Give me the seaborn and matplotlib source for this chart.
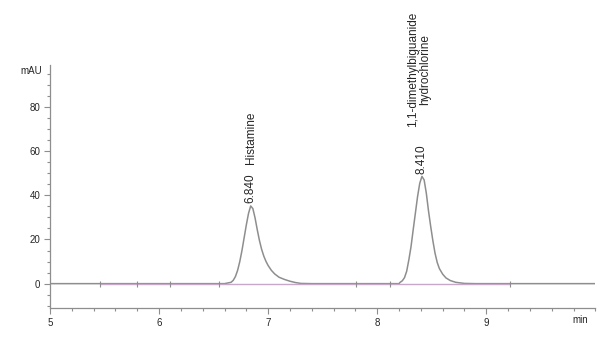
import matplotlib
matplotlib.use("Agg")
import matplotlib.pyplot as plt
from matplotlib.ticker import MultipleLocator
import seaborn as sns
import pandas as pd

# chromatogram (min, mAU)
time_min = [5.00, 6.60, 6.66, 6.68, 6.70, 6.72, 6.74, 6.76, 6.78, 6.80, 6.82, 6.84,
            6.86, 6.88, 6.90, 6.92, 6.94, 6.96, 6.98, 7.00, 7.03, 7.06, 7.10, 7.15,
            7.20, 7.25, 7.30, 7.40, 8.20, 8.21, 8.23, 8.25, 8.27, 8.29, 8.31, 8.33,
            8.35, 8.37, 8.39, 8.41, 8.43, 8.45, 8.47, 8.49, 8.51, 8.53, 8.55, 8.57,
            8.60, 8.63, 8.67, 8.72, 8.80, 8.90, 10.00]
signal_mau = [0.0, 0.0, 0.6, 1.5, 3.2, 6.0, 10.0, 15.0, 20.8, 26.6, 31.8, 35.2,
              34.0, 29.8, 24.5, 19.6, 15.6, 12.5, 10.1, 8.2, 6.0, 4.4, 2.9, 1.9,
              1.1, 0.5, 0.1, 0.0, 0.0, 0.6, 1.3, 2.7, 5.6, 10.8, 16.8, 24.5,
              32.0, 39.5, 45.5, 48.6, 47.0, 41.0, 33.0, 26.0, 19.5, 13.8, 9.6, 6.8,
              4.3, 2.6, 1.4, 0.6, 0.1, 0.0, 0.0]

# peaks
peak_rt = [6.840, 8.410]
peak_height = [35.2, 48.6]
peak_names = ["Histamine", "1,1-dimethylbiguanide\nhydrochlorine"]

# integration events / baseline
event_times = [5.46, 5.80, 6.10, 6.55, 7.81, 8.12, 9.22]
baseline_span = [5.46, 9.22]

sns.set_style("ticks")
plt.rcParams["font.family"] = ["Liberation Sans", "DejaVu Sans"]

df = pd.DataFrame({"time": time_min, "signal": signal_mau})

fig = plt.figure(figsize=(6, 3.41), dpi=100)
ax = fig.add_axes([0.0833, 0.097, 0.909, 0.712])

sns.lineplot(data=df, x="time", y="signal", color="#8e8e8e", lw=1.1, ax=ax)
ax.plot(baseline_span, [0, 0], color="#c8a8c8", lw=1.0, zorder=3)
ax.scatter(event_times, [0] * len(event_times), marker="|", s=16,
           color="#8e8e8e", lw=0.8, zorder=4)

# retention time labels
for rt, h in zip(peak_rt, peak_height):
    ax.text(rt, h + 1.2, f"{rt:.3f}", rotation=90, ha="center", va="bottom",
            fontsize=8.5)
# compound names
for rt, name, y, dx in zip(peak_rt, peak_names, [54, 71], [0.0, -0.03]):
    ax.text(rt + dx, y, name, rotation=90, ha="center", va="bottom",
            multialignment="center", fontsize=8.5, linespacing=1.0, clip_on=False)

ax.set_xlim(5, 10)
ax.set_ylim(-11, 99)
ax.xaxis.set_minor_locator(MultipleLocator(0.2))
ax.yaxis.set_major_locator(MultipleLocator(20))
ax.yaxis.set_minor_locator(MultipleLocator(5))
ax.set_xticks([5, 6, 7, 8, 9])
ax.set_xticklabels(["5", "6", "7", "8", "9"])
ax.tick_params(which="major", length=4, width=0.8, color="#8e8e8e",
               labelsize=7, pad=3)
ax.tick_params(which="minor", length=2.5, width=0.8, color="#8e8e8e")
ax.set_xlabel("")
ax.set_ylabel("")
sns.despine(ax=ax)
for s in ("left", "bottom"):
    ax.spines[s].set_color("#8e8e8e")
    ax.spines[s].set_linewidth(0.9)

ax.text(9.86, -14, "min", ha="center", va="top", fontsize=7)
ax.text(-0.015, 0.975, "mAU", ha="right", va="center", fontsize=7,
        transform=ax.transAxes)

fig.savefig("out.png", dpi=100)
